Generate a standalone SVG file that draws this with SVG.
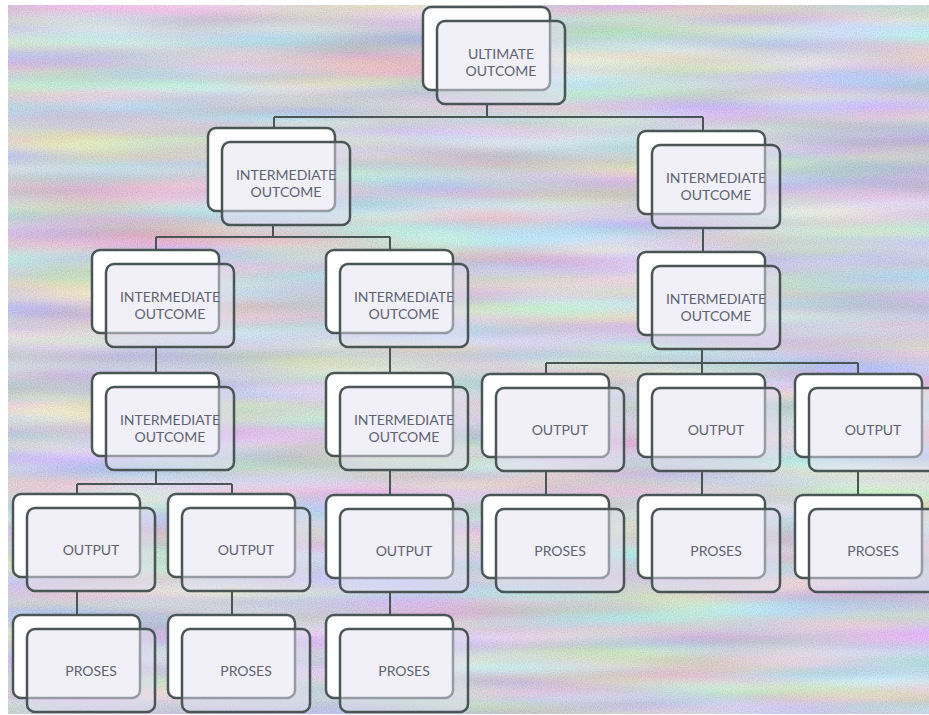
<svg xmlns="http://www.w3.org/2000/svg" width="929" height="715" viewBox="0 0 929 715">
<style>
.back{fill:#ffffff;stroke:#4a5555;stroke-width:2.5}
.front{fill:#e4e2f2;fill-opacity:0.5;stroke:#4a5555;stroke-width:2.5}
.lbl{font-family:Lato,"Liberation Sans",sans-serif;font-size:14px;fill:#5e6272;text-anchor:middle}
.conn{stroke:#4a5555;stroke-width:2;fill:none}
</style>
<defs>
<filter id="bg" filterUnits="userSpaceOnUse" x="0" y="0" width="929" height="715" color-interpolation-filters="sRGB">
<feTurbulence type="fractalNoise" baseFrequency="0.004 0.04" numOctaves="2" seed="5" result="bands"/>
<feColorMatrix in="bands" type="matrix" values="0.45 0 0 0 0.575  0 0.45 0 0 0.585  0 0 0.45 0 0.635  0 0 0 0 1" result="col"/>
<feTurbulence type="fractalNoise" baseFrequency="0.8" numOctaves="1" seed="9" result="fine"/>
<feColorMatrix in="fine" type="matrix" values="1 0 0 0 0.35  1 0 0 0 0.35  1 0 0 0 0.35  0 0 0 0 0.2" result="grain"/>
<feComposite in="grain" in2="col" operator="over" result="mix"/>
<feComposite in="mix" in2="SourceGraphic" operator="in"/>
</filter>
</defs>
<rect width="929" height="715" fill="#ffffff"/>
<rect x="8" y="5" width="921" height="709" fill="#000" filter="url(#bg)"/>
<g id="connectors">
<path class="conn" d="M487 104V117M274 117H703M274 117V128M703 117V131"/>
<path class="conn" d="M273 225V237M156 237H390M156 237V250M390 237V250"/>
<path class="conn" d="M703 228V252"/>
<path class="conn" d="M156 347V373M390 347V373"/>
<path class="conn" d="M702 349V363M546 363H858M546 363V374M702 363V374M858 363V374"/>
<path class="conn" d="M156 470V484M77 484H232M77 484V494M232 484V494"/>
<path class="conn" d="M390 470V495"/>
<path class="conn" d="M77 591V615M232 591V615M390 592V615"/>
<path class="conn" d="M546 471V495M702 471V495M858 471V495"/>
</g>
<g id="n-ultimate"><rect class="back" x="423" y="7" width="127" height="83" rx="8"/><rect class="front" x="437" y="21" width="128" height="83" rx="8"/><text class="lbl" x="501" y="59">ULTIMATE</text><text class="lbl" x="501" y="76">OUTCOME</text></g>
<g id="n-io1L"><rect class="back" x="208" y="128" width="127" height="83" rx="8"/><rect class="front" x="222" y="142" width="128" height="83" rx="8"/><text class="lbl" x="286" y="180">INTERMEDIATE</text><text class="lbl" x="286" y="197">OUTCOME</text></g>
<g id="n-io1R"><rect class="back" x="638" y="131" width="127" height="83" rx="8"/><rect class="front" x="652" y="145" width="128" height="83" rx="8"/><text class="lbl" x="716" y="183">INTERMEDIATE</text><text class="lbl" x="716" y="200">OUTCOME</text></g>
<g id="n-io2L"><rect class="back" x="92" y="250" width="127" height="83" rx="8"/><rect class="front" x="106" y="264" width="128" height="83" rx="8"/><text class="lbl" x="170" y="302">INTERMEDIATE</text><text class="lbl" x="170" y="319">OUTCOME</text></g>
<g id="n-io2M"><rect class="back" x="326" y="250" width="127" height="83" rx="8"/><rect class="front" x="340" y="264" width="128" height="83" rx="8"/><text class="lbl" x="404" y="302">INTERMEDIATE</text><text class="lbl" x="404" y="319">OUTCOME</text></g>
<g id="n-io2R"><rect class="back" x="638" y="252" width="127" height="83" rx="8"/><rect class="front" x="652" y="266" width="128" height="83" rx="8"/><text class="lbl" x="716" y="304">INTERMEDIATE</text><text class="lbl" x="716" y="321">OUTCOME</text></g>
<g id="n-io3L"><rect class="back" x="92" y="373" width="127" height="83" rx="8"/><rect class="front" x="106" y="387" width="128" height="83" rx="8"/><text class="lbl" x="170" y="425">INTERMEDIATE</text><text class="lbl" x="170" y="442">OUTCOME</text></g>
<g id="n-io3M"><rect class="back" x="326" y="373" width="127" height="83" rx="8"/><rect class="front" x="340" y="387" width="128" height="83" rx="8"/><text class="lbl" x="404" y="425">INTERMEDIATE</text><text class="lbl" x="404" y="442">OUTCOME</text></g>
<g id="n-outR1"><rect class="back" x="482" y="374" width="127" height="83" rx="8"/><rect class="front" x="496" y="388" width="128" height="83" rx="8"/><text class="lbl" x="560" y="435">OUTPUT</text></g>
<g id="n-outR2"><rect class="back" x="638" y="374" width="127" height="83" rx="8"/><rect class="front" x="652" y="388" width="128" height="83" rx="8"/><text class="lbl" x="716" y="435">OUTPUT</text></g>
<g id="n-outR3"><rect class="back" x="795" y="374" width="127" height="83" rx="8"/><rect class="front" x="809" y="388" width="128" height="83" rx="8"/><text class="lbl" x="873" y="435">OUTPUT</text></g>
<g id="n-proR1"><rect class="back" x="482" y="495" width="127" height="83" rx="8"/><rect class="front" x="496" y="509" width="128" height="83" rx="8"/><text class="lbl" x="560" y="556">PROSES</text></g>
<g id="n-proR2"><rect class="back" x="638" y="495" width="127" height="83" rx="8"/><rect class="front" x="652" y="509" width="128" height="83" rx="8"/><text class="lbl" x="716" y="556">PROSES</text></g>
<g id="n-proR3"><rect class="back" x="795" y="495" width="127" height="83" rx="8"/><rect class="front" x="809" y="509" width="128" height="83" rx="8"/><text class="lbl" x="873" y="556">PROSES</text></g>
<g id="n-outL1"><rect class="back" x="13" y="494" width="127" height="83" rx="8"/><rect class="front" x="27" y="508" width="128" height="83" rx="8"/><text class="lbl" x="91" y="555">OUTPUT</text></g>
<g id="n-outL2"><rect class="back" x="168" y="494" width="127" height="83" rx="8"/><rect class="front" x="182" y="508" width="128" height="83" rx="8"/><text class="lbl" x="246" y="555">OUTPUT</text></g>
<g id="n-outM"><rect class="back" x="326" y="495" width="127" height="83" rx="8"/><rect class="front" x="340" y="509" width="128" height="83" rx="8"/><text class="lbl" x="404" y="556">OUTPUT</text></g>
<g id="n-proL1"><rect class="back" x="13" y="615" width="127" height="83" rx="8"/><rect class="front" x="27" y="629" width="128" height="83" rx="8"/><text class="lbl" x="91" y="676">PROSES</text></g>
<g id="n-proL2"><rect class="back" x="168" y="615" width="127" height="83" rx="8"/><rect class="front" x="182" y="629" width="128" height="83" rx="8"/><text class="lbl" x="246" y="676">PROSES</text></g>
<g id="n-proM"><rect class="back" x="326" y="615" width="127" height="83" rx="8"/><rect class="front" x="340" y="629" width="128" height="83" rx="8"/><text class="lbl" x="404" y="676">PROSES</text></g>
</svg>
